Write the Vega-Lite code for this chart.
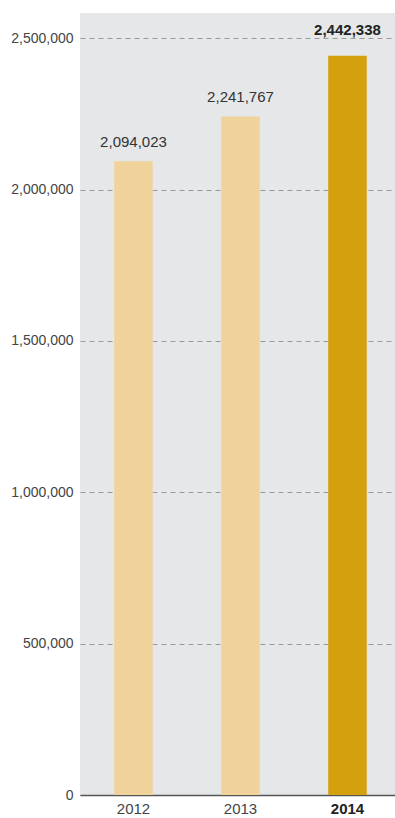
{
  "$schema": "https://vega.github.io/schema/vega-lite/v6.json",
  "width": 316,
  "height": 782,
  "autosize": {"type": "pad"},
  "padding": {"left": 10, "top": 13, "right": 0, "bottom": 0},
  "background": "#ffffff",
  "config": {
    "font": "Liberation Sans",
    "view": {"fill": "#e6e7e9", "stroke": null}
  },
  "data": {
    "values": [
      {"year": "2012", "value": 2094023, "latest": "no"},
      {"year": "2013", "value": 2241767, "latest": "no"},
      {"year": "2014", "value": 2442338, "latest": "yes"}
    ]
  },
  "encoding": {
    "x": {
      "field": "year",
      "type": "nominal",
      "title": null,
      "scale": {"paddingInner": 0.64, "paddingOuter": 0.2967, "align": 0.539},
      "axis": {
        "labelAngle": 0,
        "ticks": false,
        "labelPadding": 6,
        "labelFontSize": 15,
        "labelColor": {"condition": {"test": "datum.value == '2014'", "value": "#222222"}, "value": "#444444"},
        "labelFontWeight": {"condition": {"test": "datum.value == '2014'", "value": "bold"}, "value": "normal"},
        "domainColor": "#555555",
        "domainWidth": 1.5,
        "grid": false
      }
    },
    "y": {
      "field": "value",
      "type": "quantitative",
      "title": null,
      "scale": {"domain": [0, 2583500], "nice": false},
      "axis": {
        "values": [0, 500000, 1000000, 1500000, 2000000, 2500000],
        "labelExpr": "format(datum.value, ',')",
        "domain": false,
        "ticks": false,
        "labelPadding": 7,
        "labelFontSize": 14,
        "labelColor": "#444444",
        "gridColor": "#999999",
        "gridDash": [5, 4],
        "gridWidth": 1
      }
    }
  },
  "layer": [
    {
      "mark": {"type": "bar"},
      "encoding": {
        "color": {
          "field": "latest",
          "type": "nominal",
          "legend": null,
          "scale": {"domain": ["no", "yes"], "range": ["#f0d39b", "#d4a00d"]}
        }
      }
    },
    {
      "transform": [{"filter": "datum.latest == 'no'"}],
      "mark": {"type": "text", "baseline": "alphabetic", "dy": -14, "fontSize": 15, "color": "#333333"},
      "encoding": {"text": {"field": "value", "type": "quantitative", "format": ","}}
    },
    {
      "transform": [{"filter": "datum.latest == 'yes'"}],
      "mark": {"type": "text", "baseline": "alphabetic", "dy": -21, "fontSize": 15, "fontWeight": "bold", "color": "#222222"},
      "encoding": {"text": {"field": "value", "type": "quantitative", "format": ","}}
    }
  ]
}
